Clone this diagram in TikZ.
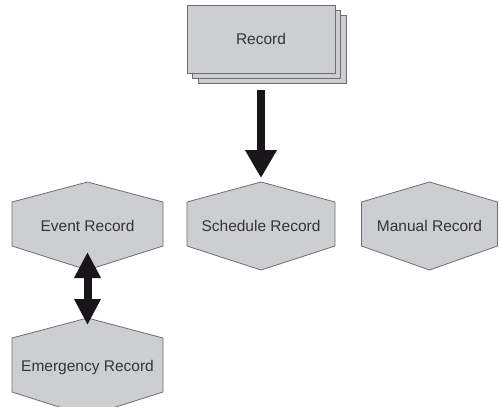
\documentclass[tikz,border=0pt]{standalone}
\usepackage{fontspec}
\setmainfont{Liberation Sans}
\usetikzlibrary{arrows.meta,calc,backgrounds}
\definecolor{boxfill}{RGB}{204,206,209}
\definecolor{boxline}{RGB}{110,110,112}
\definecolor{txt}{RGB}{52,52,54}
\definecolor{arrowc}{RGB}{24,22,24}
\tikzset{
  lbl/.style={inner sep=0pt, outer sep=0pt, text=txt, font=\fontsize{15.5}{18}\selectfont},
  hexbox/.style={lbl, minimum width=#1, minimum height=88pt},
  recbox/.style={lbl, draw=boxline, fill=boxfill, line width=0.8pt, minimum width=148pt, minimum height=68pt},
  shapeline/.style={draw=boxline, fill=boxfill, line width=0.8pt, line join=miter},
  bigarrow/.style={draw=arrowc, line width=8pt, -{Triangle[width=30pt,length=28pt]}},
  dblarrow/.style={draw=arrowc, line width=8pt, {Triangle[width=25pt,length=26pt]}-{Triangle[width=25pt,length=26pt]}}
}
\newcommand\hexpath[1]{(#1.north) -- ($(#1.north east)+(0,20)$) -- ($(#1.south east)+(0,-24)$) -- (#1.south) -- ($(#1.south west)+(0,-24)$) -- ($(#1.north west)+(0,20)$) -- cycle}
\begin{document}
\begin{tikzpicture}[x=1pt,y=-1pt]
\useasboundingbox (0,0) rectangle (501,407);
\clip (0,0) rectangle (501,407);
\node[recbox] (rec) at (261,39) {Record};
\node[hexbox=151pt] (ev) at (87.5,226) {Event Record};
\node[hexbox=148pt] (sch) at (261,226) {Schedule Record};
\node[hexbox=136pt] (man) at (429.5,226) {Manual Record};
\node[hexbox=151pt, minimum height=98pt] (em) at (87.5,367) {Emergency Record};
\begin{scope}[on background layer]
  \path[shapeline] ($(rec.north west)+(11,10)$) rectangle ($(rec.south east)+(11,10)$);
  \path[shapeline] ($(rec.north west)+(5.5,5)$) rectangle ($(rec.south east)+(5.5,5)$);
  \path[shapeline] \hexpath{ev};
  \path[shapeline] \hexpath{sch};
  \path[shapeline] \hexpath{man};
  \path[shapeline] \hexpath{em};
\end{scope}
\draw[bigarrow] ($(rec.south)+(0,17)$) -- ($(sch.north)+(0,-4)$);
\draw[dblarrow] ($(ev.south)+(0,-18)$) -- ($(em.north)+(0,7)$);
\end{tikzpicture}
\end{document}
